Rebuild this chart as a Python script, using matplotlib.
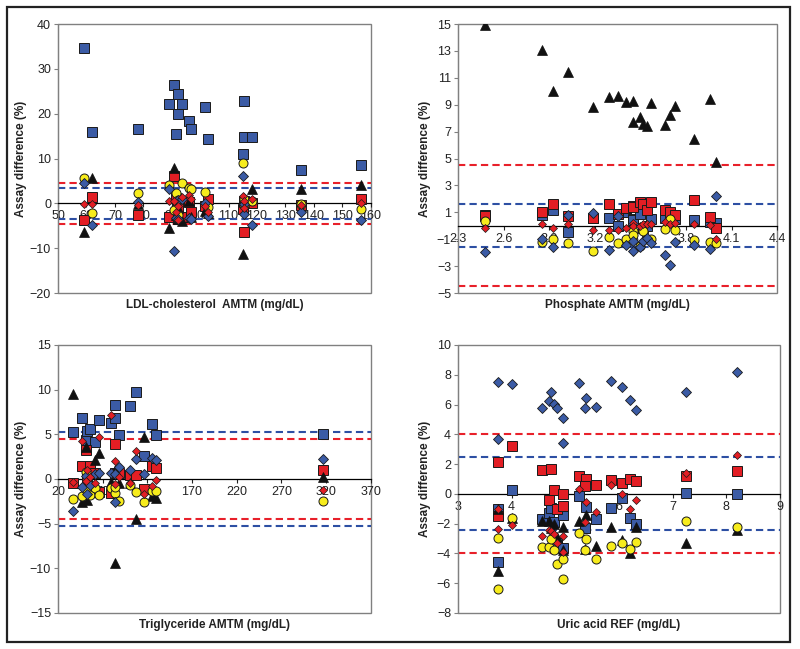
import matplotlib
matplotlib.use("Agg")
import matplotlib.pyplot as plt
from matplotlib.patches import Rectangle
import numpy as np

plt.rcParams['font.family'] = ['Liberation Sans', 'DejaVu Sans']

# ---- LDL-cholesterol ----
ldl_x = [59, 62, 78, 89.1, 90.7, 91.5, 92.2, 92.2, 93.6, 95.9, 96.6, 101.7, 102.7,
         115.0, 115.4, 115.4, 118.2, 135.4, 156.5]
ldl_bsq = [34.6, 16.0, 16.5, 22.1, 26.5, 15.4, 24.3, 19.9, 22.1, 18.3, 16.5, 21.6, 14.3,
           10.9, 22.9, 14.9, 14.9, 7.4, 8.6]
ldl_rsq = [-3.7, 1.5, -2.5, -3.0, 6.0, 1.2, -0.8, -3.5, -3.0, 0.2, -1.9, -0.5, 1.0,
           -1.3, 0.5, -6.3, 0.0, -0.4, 0.9]
ldl_yel = [5.6, -2.2, 2.2, 4.1, -1.5, 2.4, -2.5, 0.8, 4.6, 3.5, 3.1, 2.5, -0.8,
           8.9, 0.9, -0.3, 0.5, -0.2, -1.3]
ldl_tri = [-6.3, 5.6, -0.2, -5.4, 7.8, -2.5, -3.5, -1.0, -4.0, 0.5, -3.0, -1.8, -2.2,
           -11.2, 0.3, 1.2, 3.3, 3.1, 4.1]
ldl_bdi = [4.5, -4.8, 0.4, 3.1, -10.6, -3.2, 0.7, -3.6, 0.9, -3.2, -3.4, 0.0, -2.8,
           6.2, -0.1, -2.4, -4.8, -1.9, -3.7]
ldl_rdi = [-0.2, -0.2, -0.3, 0.6, 0.5, -2.0, -0.6, -3.8, 1.5, 1.8, 1.0, -0.5, -2.0,
           1.6, 0.6, -1.0, 1.0, -0.3, 0.0]

# ---- Phosphate ----
pho_x = [2.476, 2.854, 2.922, 3.026, 3.186, 3.296, 3.355, 3.406, 3.454, 3.454, 3.498,
         3.514, 3.542, 3.569, 3.659, 3.692, 3.725, 3.85, 3.956, 3.995]
pho_tri = [14.9, 13.07, 10.0, 11.46, 8.81, 9.6, 9.68, 9.18, 9.3, 7.7, 8.07,
           7.57, 7.43, 9.16, 7.5, 8.24, 8.9, 6.46, 9.4, 4.73]
pho_rsq = [0.7, 1.06, 1.6, 0.74, 0.57, 1.6, 0.87, 1.3, 1.5, 1.4, 1.8,
           1.6, 1.2, 1.8, 1.2, 1.0, 0.8, 1.9, 0.65, -0.17]
pho_bsq = [0.8, 0.8, 1.15, -0.47, 0.6, 0.57, -0.05, 1.0, 0.5, 0.4, 0.9,
           -0.2, -0.05, 0.5, 0.57, 0.45, 0.5, 0.45, 0.25, 0.2]
pho_yel = [0.37, -1.24, -1.0, -1.3, -1.9, -0.8, -1.3, -0.95, -0.4, -0.7, -1.5,
           -0.4, -1.0, -1.0, -0.25, 0.53, -0.3, -1.05, -1.2, -1.3]
pho_bdi = [-1.95, -1.0, -1.6, 0.8, 0.94, -1.83, 0.74, -1.4, -1.9, -1.1, -1.6,
           -1.1, -0.9, -1.3, -2.15, -2.95, -1.2, -1.4, -1.7, 2.25]
pho_rdi = [-0.17, 0.15, -0.2, 0.12, -0.3, -0.3, -0.35, -0.17, 0.2, 0.0, 0.0,
           0.1, 0.15, 0.1, 0.3, 0.1, 0.2, 0.15, 0.07, -1.0]

# ---- Triglyceride ----
tg_x = [36.8, 47.3, 51, 52.5, 56.2, 61.1, 65.6, 79, 83.5, 83.5, 88.4, 100.3, 107,
        116.4, 125.3, 130.2, 316]
tg_bsq = [5.31, 6.8, 4.38, 5.38, 5.57, 4.12, 6.61, 6.24, 6.8, 8.29, 4.94, 8.18, 9.78,
          2.59, 6.17, 4.94, 5.0]
tg_rsq = [-0.44, 1.4, 3.26, 0.0, 1.45, 0.7, -1.5, -1.6, 3.93, 0.7, 0.7, 0.4, 0.45,
          -1.1, 1.5, 1.2, 0.95]
tg_yel = [-2.2, -1.9, 0.8, -1.3, -1.8, -1.0, -1.85, -1.0, -1.6, -0.9, -2.5, -0.7, -1.5,
          -2.6, -1.3, -1.4, -2.5]
tg_tri = [9.52, -2.6, 3.6, -2.3, -1.2, 2.1, 2.9, -0.3, -9.4, 1.0, -0.4, -0.5, -4.5,
          4.75, -1.96, -2.1, 0.2]
tg_bdi = [-3.6, -0.85, 0.35, -1.7, -0.66, 0.5, 0.7, 0.7, 0.5, -2.6, 1.35, 1.05, 2.2,
          0.55, 2.4, 2.1, 2.2]
tg_rdi = [-0.3, 4.2, -0.2, 1.0, 0.2, -0.5, 4.7, 7.2, 2.0, -0.6, 0.2, -0.4, 3.15,
          -1.7, -0.8, -0.1, -1.2]

# ---- Uric acid ----
ua_x = [3.74, 3.74, 4.0, 4.57, 4.70, 4.73, 4.78, 4.84, 4.96, 4.96, 5.25, 5.39, 5.37,
        5.57, 5.85, 6.06, 6.2, 6.31, 7.24, 8.2]
ua_bdi = [7.53, 3.7, 7.37, 5.77, 6.26, 6.86, 6.04, 5.77, 5.1, 3.43, 7.42, 6.44, 5.77,
          5.86, 7.6, 7.2, 6.3, 5.63, 6.82, 8.2]
ua_rsq = [2.14, -1.5, 3.2, 1.6, -0.42, 1.7, 0.24, -1.05, -0.02, -0.82, 1.18, 1.02, 0.51,
          0.58, 0.9, 0.75, 1.0, 0.85, 1.2, 1.55]
ua_bsq = [-1.0, -4.55, 0.25, -1.7, -1.27, -0.98, -1.9, -3.3, -1.45, -3.65, -0.15, -0.9, -2.3,
          -1.7, -0.98, -0.25, -1.6, -2.0, 0.07, 0.0]
ua_yel = [-2.98, -6.4, -1.6, -3.55, -3.6, -3.0, -3.8, -4.7, -4.35, -5.75, -2.6, -3.0, -3.75,
          -4.35, -3.5, -3.3, -3.7, -3.2, -1.85, -2.2]
ua_tri = [-1.0, -5.2, -1.6, -1.8, -1.8, -2.3, -2.0, -2.9, -2.2, -3.8, -1.8, -1.4, -3.7,
          -3.5, -2.25, -3.1, -4.0, -2.2, -3.3, -2.4]
ua_rdi = [-2.36, -1.0, -2.1, -2.8, -2.4, -2.5, -2.7, -3.3, -2.8, -3.9, 0.35, -0.55, -1.9,
          -1.25, 0.6, 0.0, -1.0, -0.4, 1.4, 2.6]

# limits of agreement lines (red, blue)
ldl_lim = (4.5, 3.4)
pho_lim = (4.5, 1.6)
tg_lim = (4.5, 5.3)
ua_lim = (4.0, 2.45)

BLUE = '#3b5ba5'
RED = '#e31e24'
YEL = '#f7ec1c'
EDGE = '#1a1a1a'


def panel(ax, x, bsq, rsq, tri, yel, bdi, rdi, lim, xlim, xticks, ylim, yticks, xlabel, ylab_x):
    ax.plot(x, bsq, 's', ms=7, mfc=BLUE, mec=EDGE, mew=0.7, zorder=3)
    ax.plot(x, rsq, 's', ms=7, mfc=RED, mec=EDGE, mew=0.7, zorder=3)
    ax.plot(x, tri, '^', ms=7.5, mfc='#111111', mec='#111111', mew=0.5, zorder=3)
    ax.plot(x, yel, 'o', ms=6.5, mfc=YEL, mec=EDGE, mew=0.7, zorder=3)
    ax.plot(x, bdi, 'D', ms=5, mfc=BLUE, mec=EDGE, mew=0.6, zorder=3)
    ax.plot(x, rdi, 'D', ms=3.8, mfc=RED, mec=EDGE, mew=0.5, zorder=3)

    r, b = lim
    for v in (r, -r):
        ax.axhline(v, color='#e8202a', lw=1.5, ls=(0, (3.5, 2)), zorder=2)
    for v in (b, -b):
        ax.axhline(v, color='#2d4fa3', lw=1.5, ls=(0, (3.5, 2)), zorder=2)

    ax.set_xlim(*xlim)
    ax.set_ylim(*ylim)
    ax.set_xticks(xticks)
    ax.set_yticks(yticks)
    ax.set_yticklabels([str(t).replace('-', '\u2212') for t in yticks])
    ax.set_xticklabels([str(t) for t in xticks])

    ax.spines['bottom'].set_position(('data', 0))
    ax.spines['bottom'].set_color('black')
    ax.spines['bottom'].set_linewidth(0.9)
    for s in ('top', 'right'):
        ax.spines[s].set_visible(False)
    ax.spines['left'].set_color('#808080')
    ax.add_patch(Rectangle((0, 0), 1, 1, transform=ax.transAxes, fill=False,
                           ec='#808080', lw=1.0, clip_on=False, zorder=1))
    ax.tick_params(axis='both', labelsize=9, colors='#222222', length=3, width=0.8,
                   direction='out', pad=2)
    ax.tick_params(axis='y', colors='#808080', labelcolor='#222222')

    ax.text(0.5, -0.045, xlabel, transform=ax.transAxes, ha='center', va='center',
            fontsize=8.5, fontweight='bold', color='#222222')
    ax.text(ylab_x, 0.5, 'Assay difference (%)', transform=ax.transAxes, rotation=90,
            ha='center', va='center', fontsize=8.5, fontweight='bold', color='#222222')


fig = plt.figure(figsize=(8, 6.49), dpi=100)

ax1 = fig.add_axes([0.0725, 0.5485, 0.391, 0.4145])
ax2 = fig.add_axes([0.5725, 0.5485, 0.399, 0.4145])
ax3 = fig.add_axes([0.0725, 0.0555, 0.391, 0.413])
ax4 = fig.add_axes([0.5725, 0.0555, 0.4025, 0.413])

panel(ax1, ldl_x, ldl_bsq, ldl_rsq, ldl_tri, ldl_yel, ldl_bdi, ldl_rdi, ldl_lim,
      (50, 160), list(range(50, 161, 10)), (-20, 40), list(range(-20, 41, 10)),
      'LDL-cholesterol  AMTM (mg/dL)', -0.118)
panel(ax2, pho_x, pho_bsq, pho_rsq, pho_tri, pho_yel, pho_bdi, pho_rdi, pho_lim,
      (2.3, 4.4), [2.3, 2.6, 2.9, 3.2, 3.5, 3.8, 4.1, 4.4], (-5, 15), list(range(-5, 16, 2)),
      'Phosphate AMTM (mg/dL)', -0.103)
panel(ax3, tg_x, tg_bsq, tg_rsq, tg_tri, tg_yel, tg_bdi, tg_rdi, tg_lim,
      (20, 370), list(range(20, 371, 50)), (-15, 15), list(range(-15, 16, 5)),
      'Triglyceride AMTM (mg/dL)', -0.118)
panel(ax4, ua_x, ua_bsq, ua_rsq, ua_tri, ua_yel, ua_bdi, ua_rdi, ua_lim,
      (3, 9), list(range(3, 10)), (-8, 10), list(range(-8, 11, 2)),
      'Uric acid REF (mg/dL)', -0.103)

fig.patches.append(Rectangle((7 / 800, 1 - 642 / 649), 783 / 800, 635 / 649,
                             transform=fig.transFigure, fill=False, ec='#222222', lw=1.6))

fig.savefig('out.png', dpi=100)
